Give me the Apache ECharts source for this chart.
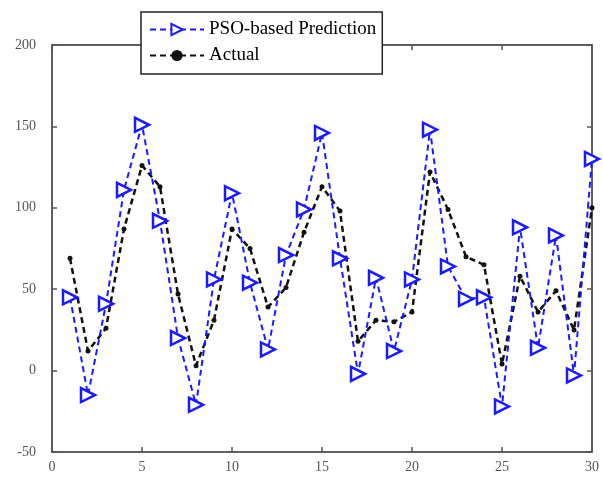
<!DOCTYPE html>
<html><head><meta charset="utf-8">
<script src="https://cdn.jsdelivr.net/npm/echarts@6/dist/echarts.min.js"></script>
<style>html,body{margin:0;padding:0;background:#fff}#c{width:603px;height:477px}</style>
</head><body><div id="c"></div>
<script>
const xValues = [1,2,3,4,5,6,7,8,9,10,11,12,13,14,15,16,17,18,19,20,21,22,23,24,25,26,27,28,29,30];
const predicted = [45,-15,41,111,151,92,20,-21,56,109,54,13,71,99,146,69,-2,57,12,56,148,64,44,45,-22,88,14,83,-3,130];
const actual = [69,12,26,87,126,113,47,3,31,87,75,39,51,85,113,98,18,31,30,36,122,99,70,65,4,58,36,49,25,100];
const xTicks = [0,5,10,15,20,25,30];
const yTicks = [-50,0,50,100,150,200];

const chart = echarts.init(document.getElementById('c'));
const pair = (xs, ys) => xs.map((x, i) => [x, ys[i]]);
const labelFont = {fontFamily: 'Liberation Serif', fontSize: 14, color: '#555'};
const tick = {show: true, inside: true, length: 5, lineStyle: {color: '#555', width: 1.5}};
const axLine = {show: true, onZero: false, lineStyle: {color: '#555', width: 1.5}};
chart.setOption({
  animation: false,
  backgroundColor: '#fff',
  grid: {left: 52, right: 11, top: 45, bottom: 25, show: true, borderColor: '#555', borderWidth: 1.5},
  legend: {
    left: 141, top: 12, width: 240, orient: 'vertical',
    backgroundColor: '#fff', borderColor: '#222', borderWidth: 1.5,
    padding: [8, 6, 9, 8], itemGap: 7, itemWidth: 54, itemHeight: 14,
    textStyle: {fontFamily: 'Liberation Serif', fontSize: 19, color: '#000'},
    data: ['PSO-based Prediction', 'Actual']
  },
  xAxis: [
    {type: 'value', min: xTicks[0], max: xTicks[xTicks.length - 1], interval: 5,
     axisLine: axLine, splitLine: {show: false}, axisTick: tick,
     axisLabel: Object.assign({margin: 8}, labelFont)},
    {type: 'value', position: 'top', min: xTicks[0], max: xTicks[xTicks.length - 1], interval: 5,
     axisLine: axLine, splitLine: {show: false}, axisTick: tick, axisLabel: {show: false}}
  ],
  yAxis: [
    {type: 'value', min: yTicks[0], max: yTicks[yTicks.length - 1], interval: 50,
     axisLine: axLine, splitLine: {show: false}, axisTick: tick,
     axisLabel: Object.assign({margin: 16}, labelFont)},
    {type: 'value', position: 'right', min: yTicks[0], max: yTicks[yTicks.length - 1], interval: 50,
     axisLine: axLine, splitLine: {show: false}, axisTick: tick, axisLabel: {show: false}}
  ],
  series: [
    {
      name: 'PSO-based Prediction', type: 'line', data: pair(xValues, predicted),
      symbol: 'triangle', symbolSize: 14, symbolRotate: -90, showAllSymbol: true,
      z: 3,
      lineStyle: {color: '#1a1aff', width: 2, type: [6, 4]},
      itemStyle: {color: '#fff', borderColor: '#1a1aff', borderWidth: 2.5}
    },
    {
      name: 'Actual', type: 'line', data: pair(xValues, actual),
      symbol: 'circle', symbolSize: 5, showAllSymbol: true,
      z: 2,
      lineStyle: {color: '#111', width: 2.5, type: [6, 4]},
      itemStyle: {color: '#111', borderColor: '#111', borderWidth: 0}
    }
  ]
});
</script></body></html>
